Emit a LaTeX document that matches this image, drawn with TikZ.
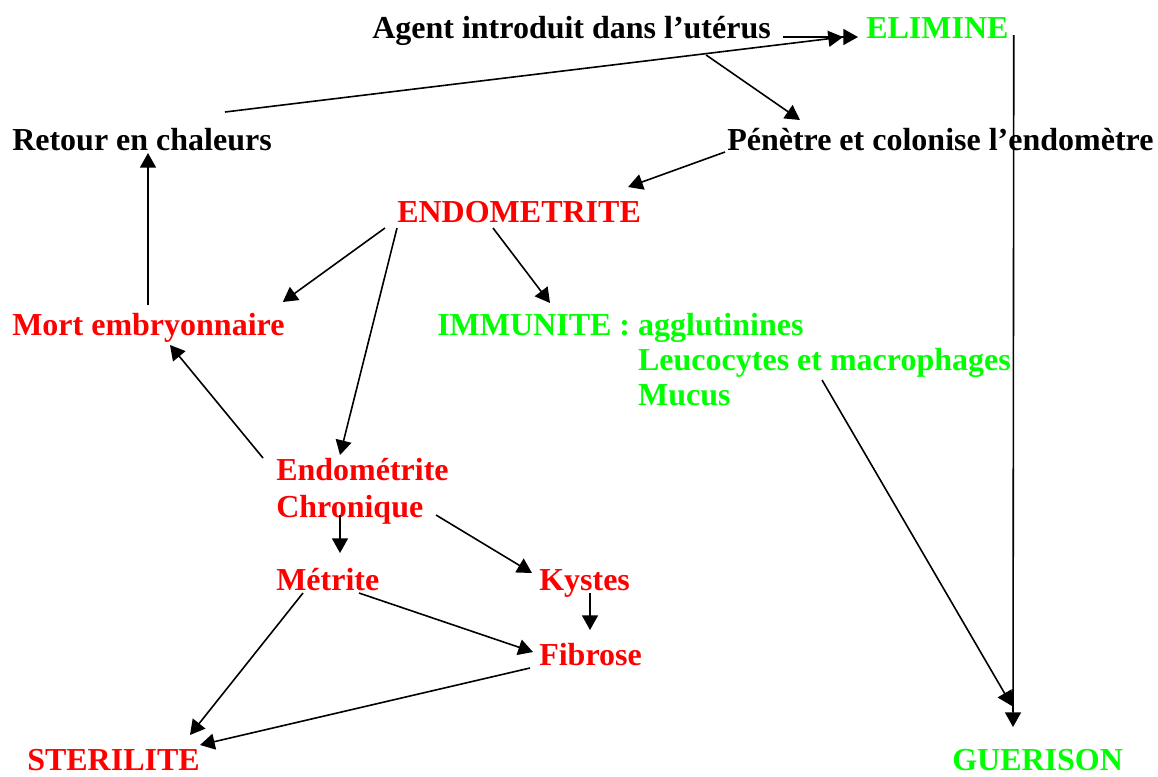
\documentclass[tikz,border=0pt]{standalone}
\usepackage{fontspec}
\setmainfont{Liberation Serif}
\usetikzlibrary{arrows.meta}
\begin{document}
\begin{tikzpicture}[x=0.75pt,y=-0.75pt,
  lbl/.style={inner sep=0pt, anchor=base west, font=\fontsize{24}{27.75}\selectfont\bfseries},
  blk/.style={lbl,text=black},
  rd/.style={lbl,text=red},
  gr/.style={lbl,text=green},
  arr/.style={draw=black,line width=1.2pt,-{Triangle[length=11pt,width=12pt]}},
  ln/.style={draw=black,line width=1.2pt}]
\useasboundingbox (0,0) rectangle (1158,776);

% nodes
\node[blk] (agent) at (372,38) {Agent introduit dans l’utérus};
\node[gr]  (elim)  at (866,38) {ELIMINE};
\node[blk] (retour) at (12,150) {Retour en chaleurs};
\node[blk] (pen)   at (727,150) {Pénètre et colonise l’endomètre};
\node[rd]  (endo)  at (397,222) {ENDOMETRITE};
\node[rd]  (mort)  at (12,335) {Mort embryonnaire};
\node[gr,font=\fontsize{24}{26.6}\selectfont\bfseries] (imm) at (437,335)
  {\begin{tabular}[t]{@{}l@{}l@{}}IMMUNITE :\mbox{\ }&agglutinines\\ &Leucocytes et macrophages\\ &Mucus\end{tabular}};
\node[rd]  (chron) at (276,480) {\begin{tabular}[t]{@{}l@{}}Endométrite\\Chronique\end{tabular}};
\node[rd]  (metr)  at (276,590) {Métrite};
\node[rd]  (kyst)  at (539,590) {Kystes};
\node[rd]  (fibr)  at (539,665) {Fibrose};
\node[rd]  (ster)  at (27,770) {STERILITE};
\node[gr]  (guer)  at (952,770) {GUERISON};

% connectors
\draw[arr] ([shift={(12,-1)}]agent.base east) -- ([shift={(-8,-1)}]elim.base west);
\draw[arr] ([shift={(213,-38)}]retour.base west) -- ([shift={(-23,-1)}]elim.base west);
\draw[arr] ([shift={(-65,17)}]agent.base east) -- ([shift={(73,-30)}]pen.base west);
\draw[arr] ([shift={(-2,2)}]pen.base west) -- ([shift={(-13,-35)}]endo.base east);
\draw[arr] ([shift={(5,-3)}]elim.base east) -- ([shift={(61,-43)}]guer.base west);
\draw[arr] ([shift={(136,-30)}]mort.base west) -- ([shift={(136,3)}]retour.base west);
\draw[arr] ([shift={(-12,6)}]endo.base west) -- ([shift={(-2,-33)}]mort.base east);
\draw[arr] ([shift={(0,6)}]endo.base west) -- ([shift={(64,-25)}]chron.base west);
\draw[arr] ([shift={(96,6)}]endo.base west) -- ([shift={(113,-32)}]imm.base west);
\draw[arr] ([shift={(-13,-22)}]chron.base west) -- ([shift={(158,10)}]mort.base west);
\draw[arr] ([shift={(64,35)}]chron.base west) -- ([shift={(64,-37)}]metr.base west);
\draw[arr] ([shift={(160,35)}]chron.base west) -- ([shift={(-7,-17)}]kyst.base west);
\draw[arr] ([shift={(51,3)}]kyst.base west) -- ([shift={(51,-35)}]fibr.base west);
\draw[arr] ([shift={(83,3)}]metr.base west) -- ([shift={(-6,-13)}]fibr.base west);
\draw[arr] ([shift={(27,3)}]metr.base west) -- ([shift={(163,-35)}]ster.base west);
\draw[arr] ([shift={(-9,3)}]fibr.base west) -- ([shift={(173,-25)}]ster.base west);
\draw[arr] ([shift={(385,45)}]imm.base west) -- ([shift={(60,-64)}]guer.base west);
\end{tikzpicture}
\end{document}
